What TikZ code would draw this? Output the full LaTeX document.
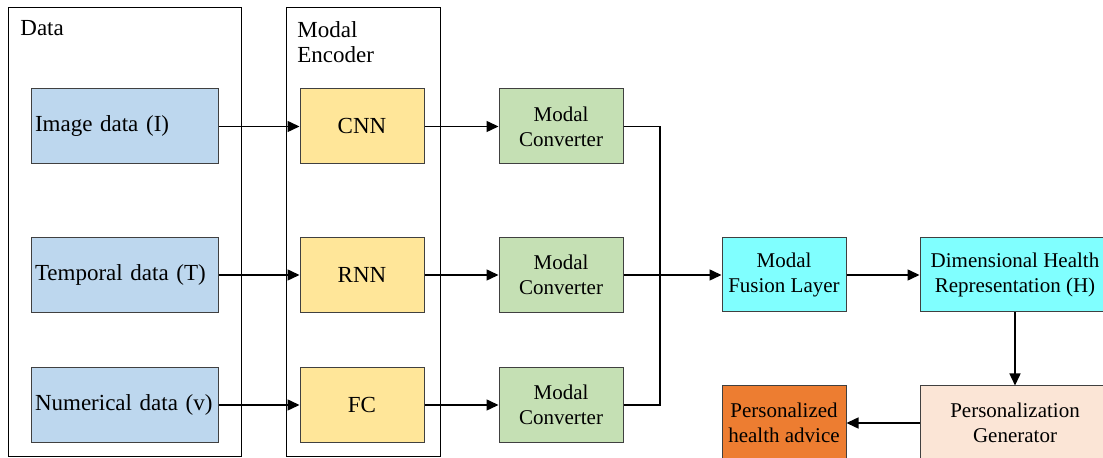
\documentclass[tikz,border=0pt]{standalone}
\usepackage{fontspec}
\setmainfont{Liberation Serif}
\usetikzlibrary{arrows.meta,positioning,calc}
\definecolor{datab}{RGB}{189,215,238}
\definecolor{encb}{RGB}{255,230,153}
\definecolor{convb}{RGB}{197,224,180}
\definecolor{fuseb}{RGB}{128,255,255}
\definecolor{advb}{RGB}{237,125,49}
\definecolor{genb}{RGB}{251,229,214}
\definecolor{edge}{RGB}{64,64,64}

\begin{document}
\begin{tikzpicture}[x=0.5pt, y=-0.5pt,
    panel/.style={draw, line width=0.5pt, minimum width=#1, minimum height=224.5pt, inner sep=0pt},
    box/.style={draw=edge, line width=0.5pt, minimum height=37.5pt, minimum width=62pt, inner sep=1pt, align=center, font=\fontsize{10.5}{12.5}\selectfont},
    datbox/.style={box, fill=datab, text width=89.5pt, inner xsep=2pt, align=left, font=\fontsize{11.5}{13}\selectfont},
    encbox/.style={box, fill=encb, font=\fontsize{11.5}{13}\selectfont},
    lbl/.style={inner sep=0pt, align=left, font=\fontsize{11.5}{12.5}\selectfont},
    arr/.style={-{Triangle[length=6pt, width=5.5pt]}, line width=0.75pt, black},
    link/.style={line width=0.75pt, black},
]
\clip (0,0) rectangle (1103,458);
% Left: panels
\node[panel=116.5pt] (datapanel) at (124.5,232.5) {};
\node[panel=77pt] (encpanel) at (363,232.5) {};
\node[lbl, anchor=base west] (datalbl) at (20,36) {Data};
\node[lbl, anchor=north west] (enclbl) at (297,21) {Modal\\Encoder};

% Data inputs
\node[datbox] (imgdata) at (124.5,126.5) {Image data (I)};
\node[datbox] (tmpdata) at (124.5,275) {Temporal data (T)};
\node[datbox] (numdata) at (124.5,405) {Numerical data (v)};

% Encoders
\node[encbox] (cnn) at (362,126.5) {CNN};
\node[encbox] (rnn) at (362,275) {RNN};
\node[encbox] (fc) at (362,405) {FC};

% Converters
\node[box, fill=convb] (conv1) at (561,126.5) {Modal\\Converter};
\node[box, fill=convb] (conv2) at (561,275) {Modal\\Converter};
\node[box, fill=convb] (conv3) at (561,405) {Modal\\Converter};
\coordinate (junc) at (660,275);

% Right: fusion and output
\node[box, fill=fuseb, minimum height=37pt] (fusion) at (784,275) {Modal\\Fusion Layer};
\node[box, fill=fuseb, minimum height=37pt, minimum width=95pt] (health) at (1015,275) {Dimensional Health\\Representation (H)};
\node[box, fill=genb, minimum height=37pt, minimum width=95pt] (gen) at (1015,423) {Personalization\\Generator};
\node[box, fill=advb, minimum height=37pt] (advice) at (784,423) {Personalized\\health advice};

% Arrows
\draw[arr] (imgdata.east) -- (cnn.west); \draw[arr] (tmpdata.east) -- (rnn.west);
\draw[arr] (numdata.east) -- (fc.west);
\draw[arr] (cnn.east) -- (conv1.west); \draw[arr] (rnn.east) -- (conv2.west);
\draw[arr] (fc.east) -- (conv3.west);
\draw[link] (conv1.east) -| (junc); \draw[link] (conv3.east) -| (junc);
\draw[arr] (conv2.east) -- (fusion.west);
\draw[arr] (fusion.east) -- (health.west);
\draw[arr] (health.south) -- (gen.north);
\draw[arr] (gen.west) -- (advice.east);
\end{tikzpicture}
\end{document}
